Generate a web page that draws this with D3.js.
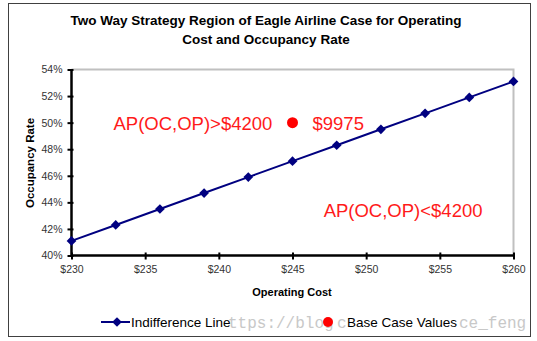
<!DOCTYPE html>
<html><head><meta charset="utf-8">
<script src="https://cdn.jsdelivr.net/npm/d3@7"></script>
<style>
body{margin:0;background:#fff;}
svg{display:block;font-family:Arial,"Liberation Sans",sans-serif;}
</style></head>
<body><svg id="c" width="537" height="341"></svg>
<script>
const operatingCost = [230, 233, 236, 239, 242, 245, 248, 251, 254, 257, 260];
const occupancyRate = [0.411, 0.423, 0.435, 0.447, 0.459, 0.471, 0.483, 0.495, 0.507, 0.519, 0.531];
const baseCase = [{cost: 245, rate: 0.50, label: "$9975"}];
const xTicks = [230, 235, 240, 245, 250, 255, 260];
const yTicks = [0.40, 0.42, 0.44, 0.46, 0.48, 0.50, 0.52, 0.54];
const regionLabels = [
  {cost: 230, rate: 0.50, text: "AP(OC,OP)>$4200"},
  {cost: 260, rate: 0.434, text: "AP(OC,OP)<$4200"}
];
const titleLines = ["Two Way Strategy Region of Eagle Airline Case for Operating", "Cost and Occupancy Rate"];
const watermarkParts = [{x: 228, t: "ttps://blog"}, {x: 337, t: "c"}, {x: 459, t: "ce_feng"}];

const svg = d3.select("#c");
svg.append("rect").attr("x", 8.5).attr("y", 3.5).attr("width", 522).attr("height", 333)
  .attr("fill", "#fff").attr("stroke", "#404040").attr("stroke-width", 1);

const L = 71.5, R = 513.5, T = 69.5, B = 255.5;
const x = d3.scaleLinear().domain([230, 260]).range([L, R]);
const y = d3.scaleLinear().domain([0.40, 0.54]).range([B, T]);

// title
svg.append("g").selectAll("text").data(titleLines).join("text")
  .attr("x", 266).attr("y", (d, i) => 25 + i * 19)
  .attr("text-anchor", "middle").attr("font-size", 13.5).attr("font-weight", "bold")
  .attr("fill", "#000").text(d => d);

// plot frame top/right light grey
svg.append("path").attr("d", `M${L},${T}H${R}V${B}`).attr("fill", "none")
  .attr("stroke", "#c0c0c0").attr("stroke-width", 2);

// axes
const xAxis = d3.axisBottom(x).tickValues(xTicks).tickFormat(d => "$" + d).tickSize(4).tickPadding(6);
const gx = svg.append("g").attr("transform", `translate(0,${B})`).call(xAxis);
const yAxis = d3.axisLeft(y).tickValues(yTicks).tickFormat(d3.format(".0%")).tickSize(4).tickPadding(5);
const gy = svg.append("g").attr("transform", `translate(${L},0)`).call(yAxis);
[gx, gy].forEach(g => {
  g.select(".domain").attr("stroke", "#000").attr("stroke-width", 2.5);
  g.selectAll(".tick line").attr("stroke", "#000").attr("stroke-width", 2);
  g.selectAll(".tick text").attr("font-size", 10.5).attr("fill", "#333").attr("font-family", "Arial,'Liberation Sans',sans-serif");
});
gx.selectAll(".tick line").attr("y1", -3);
gy.selectAll(".tick line").attr("x1", 2);
gx.select(".domain").attr("d", `M${L},0H${R}`);
gy.select(".domain").attr("d", `M0,${T}V${B}`);

// axis titles
svg.append("text").attr("x", 292).attr("y", 296).attr("text-anchor", "middle")
  .attr("font-size", 11).attr("font-weight", "bold").text("Operating Cost");
svg.append("text").attr("transform", `translate(34,${163}) rotate(-90)`).attr("text-anchor", "middle")
  .attr("font-size", 11.5).attr("font-weight", "bold").text("Occupancy Rate");

// indifference line
const pts = operatingCost.map((c, i) => ({c, r: occupancyRate[i]}));
svg.append("path").datum(pts)
  .attr("d", d3.line().x(d => x(d.c)).y(d => y(d.r)))
  .attr("fill", "none").attr("stroke", "#000080").attr("stroke-width", 2);
const diamond = d3.symbol().type(d3.symbolDiamond2).size(60);
svg.append("g").selectAll("path").data(pts).join("path")
  .attr("transform", d => `translate(${x(d.c)},${y(d.r)})`)
  .attr("d", diamond).attr("fill", "#000080");

// base case
svg.append("g").selectAll("circle").data(baseCase).join("circle")
  .attr("cx", d => x(d.cost)).attr("cy", d => y(d.rate)).attr("r", 5.5).attr("fill", "#ff0000");
svg.append("g").selectAll("text").data(baseCase).join("text")
  .attr("x", d => x(d.cost) + 20).attr("y", d => y(d.rate) + 7)
  .attr("font-size", 18.5).attr("fill", "#ff1a1a").text(d => d.label);

// region labels
svg.append("text").attr("x", x(regionLabels[0].cost) + 42).attr("y", y(regionLabels[0].rate) + 7)
  .attr("font-size", 18.5).attr("fill", "#ff1a1a").text(regionLabels[0].text);
svg.append("text").attr("x", x(regionLabels[1].cost) - 31).attr("y", y(regionLabels[1].rate) + 7)
  .attr("text-anchor", "end")
  .attr("font-size", 18.5).attr("fill", "#ff1a1a").text(regionLabels[1].text);

// watermark (visible parts only)
svg.append("g").selectAll("text").data(watermarkParts).join("text")
  .attr("x", d => d.x).attr("y", 328)
  .attr("font-family", "'Liberation Mono','DejaVu Sans Mono',monospace")
  .attr("font-size", 16).attr("fill", "#c8c8c8").text(d => d.t);

// legend
const lg = svg.append("g").attr("transform", "translate(0,322)");
lg.append("line").attr("x1", 101).attr("x2", 130).attr("stroke", "#000080").attr("stroke-width", 2);
lg.append("path").attr("transform", "translate(117,0)").attr("d", diamond).attr("fill", "#000080");
lg.append("text").attr("x", 131).attr("y", 5).attr("font-size", 13.5)
  .attr("fill", "#000").text("Indifference Line");
lg.append("circle").attr("cx", 328).attr("cy", 0).attr("r", 5).attr("fill", "#ff0000");
lg.append("text").attr("x", 347).attr("y", 5).attr("font-size", 13.5)
  .attr("fill", "#000").text("Base Case Values");
</script></body></html>
